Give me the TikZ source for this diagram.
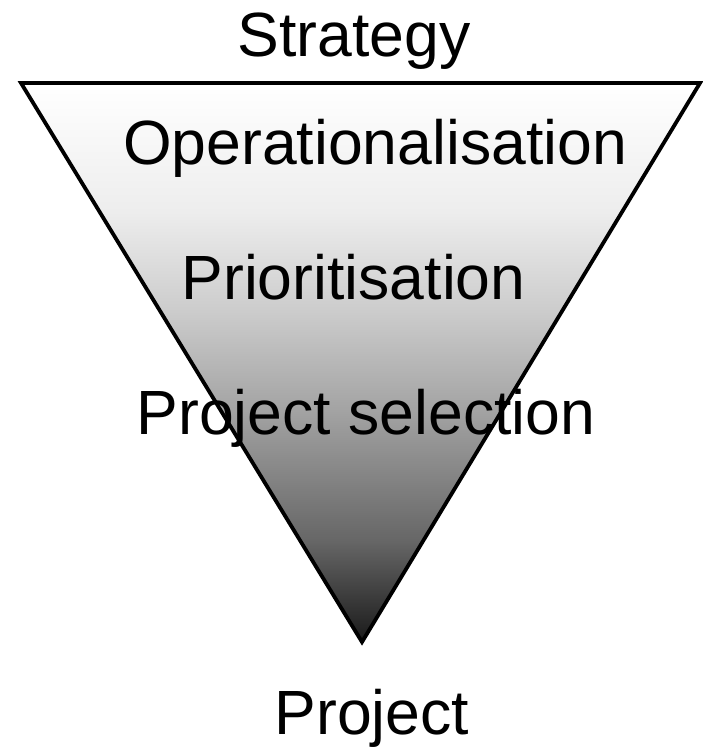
\documentclass[tikz,border=0pt]{standalone}
\usepackage{fontspec}
\setmainfont{Liberation Sans}
\definecolor{g0}{gray}{0.10}
\definecolor{g1}{gray}{0.40}
\definecolor{g2}{gray}{0.64}
\definecolor{g3}{gray}{0.80}
\definecolor{g4}{gray}{0.93}
\pgfdeclareverticalshading{funnel}{100bp}{color(0bp)=(g0); color(25bp)=(g0); color(34bp)=(g1); color(45.75bp)=(g2); color(54.6bp)=(g3); color(63.5bp)=(g4); color(75bp)=(white); color(100bp)=(white)}
\tikzset{
  lbl/.style={anchor=base, inner sep=0pt, font=\fontsize{62.5}{70}\selectfont},
  funnelshape/.style={draw=black, line width=3.8pt, line join=miter, shading=funnel}
}
\begin{document}
\begin{tikzpicture}[x=1pt,y=1pt]
\useasboundingbox (0,0) rectangle (702,749);
\coordinate (tl) at (21,666);
\coordinate (tr) at (700,666);
\coordinate (bt) at (362,107);
\path[funnelshape] (tl) -- (tr) -- (bt) -- cycle;
\node[lbl] (strategy) at (354,692) {Strategy};
\node[lbl] (oper) at (375,584) {Operationalisation};
\node[lbl] (prio) at (353.5,449) {Prioritisation};
\node[lbl] (sel) at (366,314) {Project selection};
\node[lbl] (proj) at (372,14) {Project};
\end{tikzpicture}
\end{document}
